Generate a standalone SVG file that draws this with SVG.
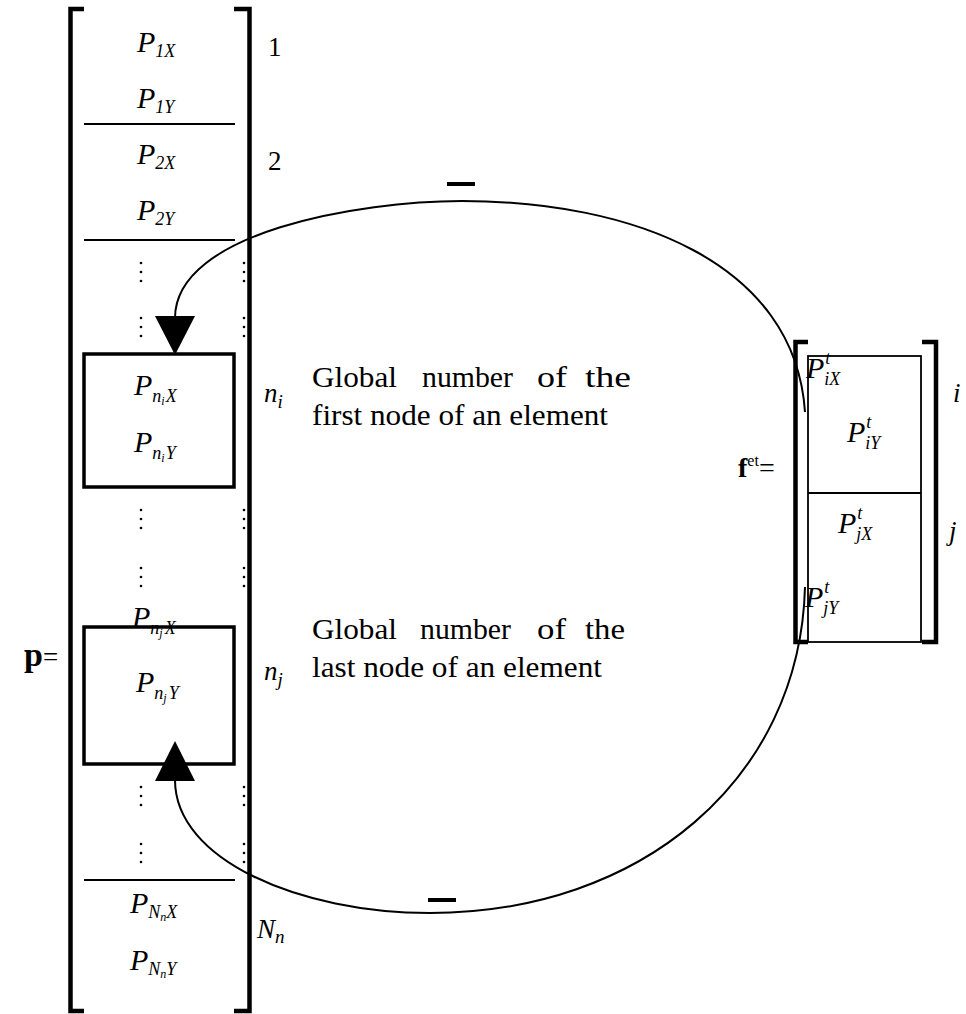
<svg xmlns="http://www.w3.org/2000/svg" width="966" height="1014" viewBox="0 0 966 1014">
<style>
.t{font-family:"Liberation Serif","Times New Roman",serif;fill:#000}
.it{font-style:italic}
.m{font-size:30px}
.s{font-size:18px}
.ss{font-size:12px}
.lbl{font-size:27px}
.gl{font-size:29px}
.br{fill:none;stroke:#000;stroke-width:4.5}
.sep{stroke:#000;stroke-width:2}
.box{fill:none;stroke:#000;stroke-width:3.5}
.thin{fill:none;stroke:#000;stroke-width:1.8}
.cv{fill:none;stroke:#000;stroke-width:2}
.minus{stroke:#000;stroke-width:4}
.dot{fill:#000}
</style>
<defs>
<g id="vd"><circle cx="0" cy="0" r="1.3"/><circle cx="0" cy="9" r="1.3"/><circle cx="0" cy="18" r="1.3"/></g>
</defs>
<rect width="966" height="1014" fill="#fff"/>

<g id="p-vector">
<path class="br" d="M84,9 H70.5 V1011 H84"/>
<path class="br" d="M234,9 H249.5 V1011 H234"/>
<line class="sep" x1="84" y1="124" x2="235" y2="124"/>
<line class="sep" x1="84" y1="240" x2="235" y2="240"/>
<line class="sep" x1="84" y1="880" x2="235" y2="880"/>
<text class="t it m" x="137" y="52">P<tspan class="s" dy="5">1X</tspan></text>
<text class="t it m" x="137" y="108">P<tspan class="s" dy="5">1Y</tspan></text>
<text class="t it m" x="137" y="164">P<tspan class="s" dy="5">2X</tspan></text>
<text class="t it m" x="137" y="220">P<tspan class="s" dy="5">2Y</tspan></text>
<text class="t lbl" x="268" y="56">1</text>
<text class="t lbl" x="268" y="170">2</text>
<g class="dot">
<use href="#vd" x="141" y="263"/><use href="#vd" x="244" y="263"/>
<use href="#vd" x="141" y="318"/><use href="#vd" x="244" y="318"/>
<use href="#vd" x="141" y="510"/><use href="#vd" x="244" y="510"/>
<use href="#vd" x="141" y="568"/><use href="#vd" x="244" y="568"/>
<use href="#vd" x="141" y="787"/><use href="#vd" x="244" y="787"/>
<use href="#vd" x="141" y="844"/><use href="#vd" x="244" y="844"/>
</g>
<text class="t it m" x="130" y="913">P<tspan class="s" dy="5">N</tspan><tspan class="ss" dy="3">n</tspan><tspan class="s" dy="-3">X</tspan></text>
<text class="t it m" x="130" y="970">P<tspan class="s" dy="5">N</tspan><tspan class="ss" dy="3">n</tspan><tspan class="s" dy="-3">Y</tspan></text>
<text class="t it lbl" x="257" y="938">N<tspan font-size="19" dy="5">n</tspan></text>
</g>

<g id="node-ni">
<rect class="box" x="84" y="354" width="150" height="133"/>
<text class="t it m" x="134" y="395">P<tspan class="s" dy="7">n</tspan><tspan class="ss" dy="3">i</tspan><tspan class="s" dx="1" dy="-3">X</tspan></text>
<text class="t it m" x="134" y="452">P<tspan class="s" dy="7">n</tspan><tspan class="ss" dy="3">i</tspan><tspan class="s" dx="1" dy="-3">Y</tspan></text>
<text class="t it lbl" x="264" y="402">n<tspan font-size="19" dy="6">i</tspan></text>
<g class="t gl">
<text x="312" y="387" textLength="85" lengthAdjust="spacingAndGlyphs">Global</text>
<text x="422" y="387" textLength="91" lengthAdjust="spacingAndGlyphs">number</text>
<text x="537" y="387" textLength="30" lengthAdjust="spacingAndGlyphs">of</text>
<text x="585" y="387" textLength="46" lengthAdjust="spacingAndGlyphs">the</text>
<text x="312" y="425" textLength="296" lengthAdjust="spacingAndGlyphs">first node of an element</text>
</g>
</g>

<g id="node-nj">
<rect class="box" x="84" y="627" width="150" height="137"/>
<text class="t it m" x="132" y="627">P<tspan class="s" dy="7">n</tspan><tspan class="ss" dy="3">j</tspan><tspan class="s" dx="2" dy="-3">X</tspan></text>
<text class="t it m" x="136" y="692">P<tspan class="s" dy="7">n</tspan><tspan class="ss" dy="3">j</tspan><tspan class="s" dx="2" dy="-3">Y</tspan></text>
<text class="t it lbl" x="264" y="680">n<tspan font-size="19" dy="6">j</tspan></text>
<g class="t gl">
<text x="312" y="639" textLength="85" lengthAdjust="spacingAndGlyphs">Global</text>
<text x="420" y="639" textLength="91" lengthAdjust="spacingAndGlyphs">number</text>
<text x="537" y="639" textLength="29" lengthAdjust="spacingAndGlyphs">of</text>
<text x="585" y="639" textLength="40" lengthAdjust="spacingAndGlyphs">the</text>
<text x="312" y="677" textLength="290" lengthAdjust="spacingAndGlyphs">last node of an element</text>
</g>
</g>

<g id="p-label">
<text class="t" font-size="34" font-weight="bold" x="24" y="666">p<tspan font-weight="normal" font-size="27">=</tspan></text>
</g>

<g id="f-vector">
<path class="br" d="M808,342 H795.5 V642 H808"/>
<path class="br" d="M922,342 H936 V642 H922"/>
<rect class="thin" x="808" y="356" width="113" height="286"/>
<line class="thin" x1="808" y1="493" x2="921" y2="493"/>
<text class="t it m" x="806" y="378">P<tspan class="s" dx="1" dy="-14">t</tspan><tspan class="s" dx="-6" dy="21">iX</tspan></text>
<text class="t it m" x="847" y="442">P<tspan class="s" dx="1" dy="-14">t</tspan><tspan class="s" dx="-6" dy="21">iY</tspan></text>
<text class="t it m" x="838" y="533">P<tspan class="s" dx="1" dy="-14">t</tspan><tspan class="s" dx="-6" dy="21">jX</tspan></text>
<text class="t it m" x="805" y="607">P<tspan class="s" dx="1" dy="-14">t</tspan><tspan class="s" dx="-6" dy="21">jY</tspan></text>
<text class="t it lbl" x="953" y="402">i</text>
<text class="t it lbl" x="949" y="540">j</text>
<text class="t" font-size="28" x="738" y="477"><tspan font-weight="bold">f</tspan><tspan font-size="16" dy="-11">et</tspan><tspan dy="11">=</tspan></text>
</g>

<g id="connectors">
<path class="cv" d="M175,318 C175,232 360,201 462,201 C632,201 795,262 805,412"/>
<polygon points="155,316 195,316 175,355" fill="#000"/>
<line class="minus" x1="447" y1="184" x2="475" y2="184"/>
<path class="cv" d="M175,780 C175,860 300,913 430,913 C640,913 800,780 805,587"/>
<polygon points="155,781 195,781 175,741" fill="#000"/>
<line class="minus" x1="428" y1="900" x2="456" y2="900"/>
</g>
</svg>
